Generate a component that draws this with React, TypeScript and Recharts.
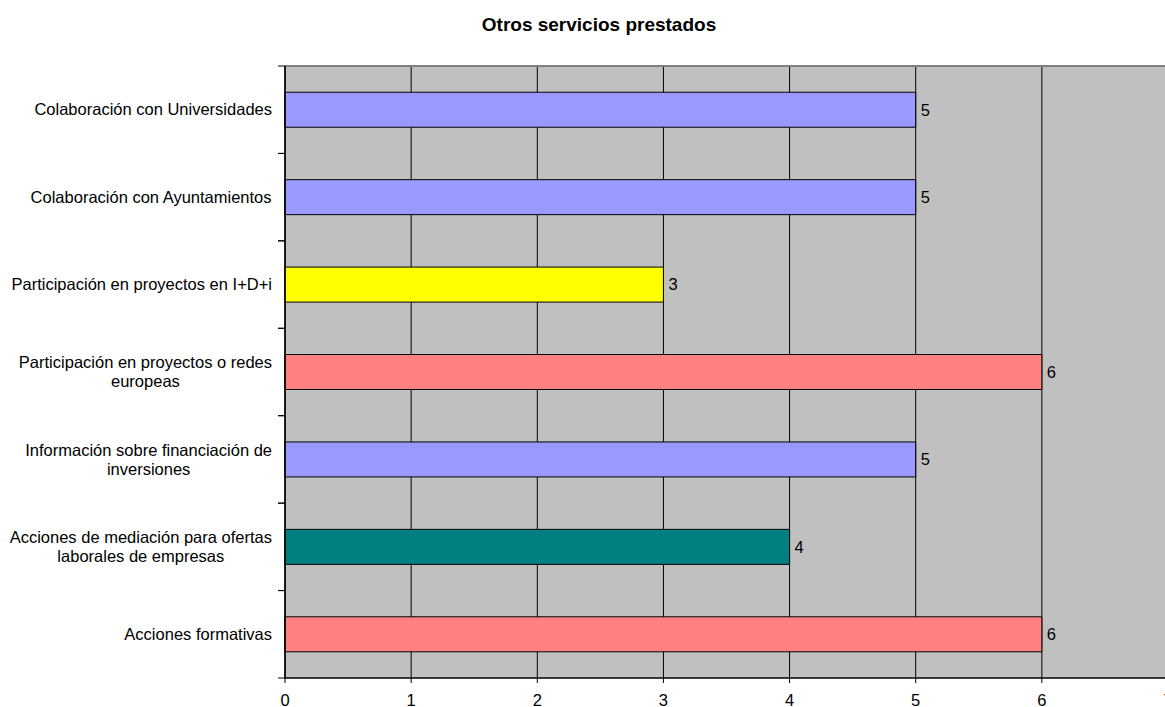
import React from "react";
import {
  BarChart,
  Bar,
  XAxis,
  YAxis,
  CartesianGrid,
  Cell,
  LabelList,
} from "recharts";

const categories = [
  "Colaboración con Universidades",
  "Colaboración con Ayuntamientos",
  "Participación en proyectos en I+D+i",
  "Participación en proyectos o redes europeas",
  "Información sobre financiación de inversiones",
  "Acciones de mediación para ofertas laborales de empresas",
  "Acciones formativas",
];
const values = [5, 5, 3, 6, 5, 4, 6];
const barColors = ["#9999FF", "#9999FF", "#FFFF00", "#FF8080", "#9999FF", "#008080", "#FF8080"];
const xTicks = [0, 1, 2, 3, 4, 5, 6, 7];
const title = "Otros servicios prestados";

const data = categories.map((name, i) => ({ name, value: values[i] }));

const FONT = "'Liberation Sans', Arial, sans-serif";
const FONT_SIZE = 16.5;

let ctx: CanvasRenderingContext2D | null = null;
function measure(text: string): number {
  if (!ctx) {
    const c = document.createElement("canvas");
    ctx = c.getContext("2d");
  }
  if (!ctx) return text.length * 8;
  ctx.font = `${FONT_SIZE}px ${FONT}`;
  return ctx.measureText(text).width;
}

function wrap(text: string, maxW: number): string[] {
  const words = text.split(" ");
  const lines: string[] = [];
  let cur = "";
  for (const w of words) {
    const t = cur ? cur + " " + w : w;
    if (measure(t) > maxW && cur) {
      lines.push(cur);
      cur = w;
    } else {
      cur = t;
    }
  }
  if (cur) lines.push(cur);
  return lines;
}

const CategoryTick = (props: any) => {
  const { x, y, payload } = props;
  const axisX = x + 8;
  const half = payload && payload.offset ? payload.offset : 0;
  const lines = wrap(String(payload.value), 270);
  const maxW = Math.max(...lines.map(measure));
  const right = axisX - 13;
  const cx = right - maxW / 2;
  const lh = 19;
  const startY = y - ((lines.length - 1) * lh) / 2;
  return (
    <g>
      {half > 0 && (
        <>
          <line x1={axisX - 7} x2={axisX} y1={y - half} y2={y - half} stroke="#000" strokeWidth={1} />
          <line x1={axisX - 7} x2={axisX} y1={y + half} y2={y + half} stroke="#000" strokeWidth={1} />
        </>
      )}
      {lines.map((l, i) => (
        <text
          key={i}
          x={cx}
          y={startY + i * lh}
          dy="0.35em"
          textAnchor="middle"
          fill="#000"
          fontSize={FONT_SIZE}
          fontFamily={FONT}
        >
          {l}
        </text>
      ))}
    </g>
  );
};

const topOnly = ({ offset }: any) => [offset.top];

export default function App() {
  return (
    <div
      style={{
        position: "absolute",
        left: 0,
        top: 0,
        width: 1165,
        height: 707,
        overflow: "hidden",
        background: "#fff",
      }}
    >
      <div
        style={{
          position: "absolute",
          left: 0,
          top: 14,
          width: 1198,
          textAlign: "center",
          fontFamily: FONT,
          fontWeight: "bold",
          fontSize: 19,
          color: "#000",
          lineHeight: "22px",
        }}
      >
        {title}
      </div>
      <div style={{ position: "absolute", left: 0, top: 0 }}>
        <BarChart
          width={1180}
          height={707}
          data={data}
          layout="vertical"
          margin={{ top: 66, right: 12, bottom: 0, left: 0 }}
          barCategoryGap="30%"
        >
          <CartesianGrid
            horizontal={false}
            vertical={true}
            stroke="#000"
            fill="#C0C0C0"
            fillOpacity={1}
          />
          <CartesianGrid
            horizontal={true}
            vertical={false}
            horizontalCoordinatesGenerator={topOnly}
            stroke="#808080"
            strokeWidth={2}
          />
          <XAxis
            type="number"
            domain={[0, 7]}
            ticks={xTicks}
            interval={0}
            height={29}
            axisLine={{ stroke: "#000", strokeWidth: 1.5 }}
            tickLine={{ stroke: "#000" }}
            tickSize={5}
            tickMargin={11}
            tick={{ fill: "#000", fontSize: FONT_SIZE, fontFamily: FONT }}
          />
          <YAxis
            type="category"
            dataKey="name"
            width={285}
            interval={0}
            axisLine={{ stroke: "#000", strokeWidth: 1.5 }}
            tickLine={false}
            tickSize={6}
            tickMargin={2}
            tick={<CategoryTick />}
          />
          <Bar
            dataKey="value"
            stroke="#000"
            strokeWidth={1}
            isAnimationActive={false}
          >
            {data.map((d, i) => (
              <Cell key={i} fill={barColors[i]} />
            ))}
            <LabelList
              dataKey="value"
              position="right"
              offset={5}
              fill="#000"
              fontSize={FONT_SIZE}
              fontFamily={FONT}
            />
          </Bar>
        </BarChart>
      </div>
    </div>
  );
}
